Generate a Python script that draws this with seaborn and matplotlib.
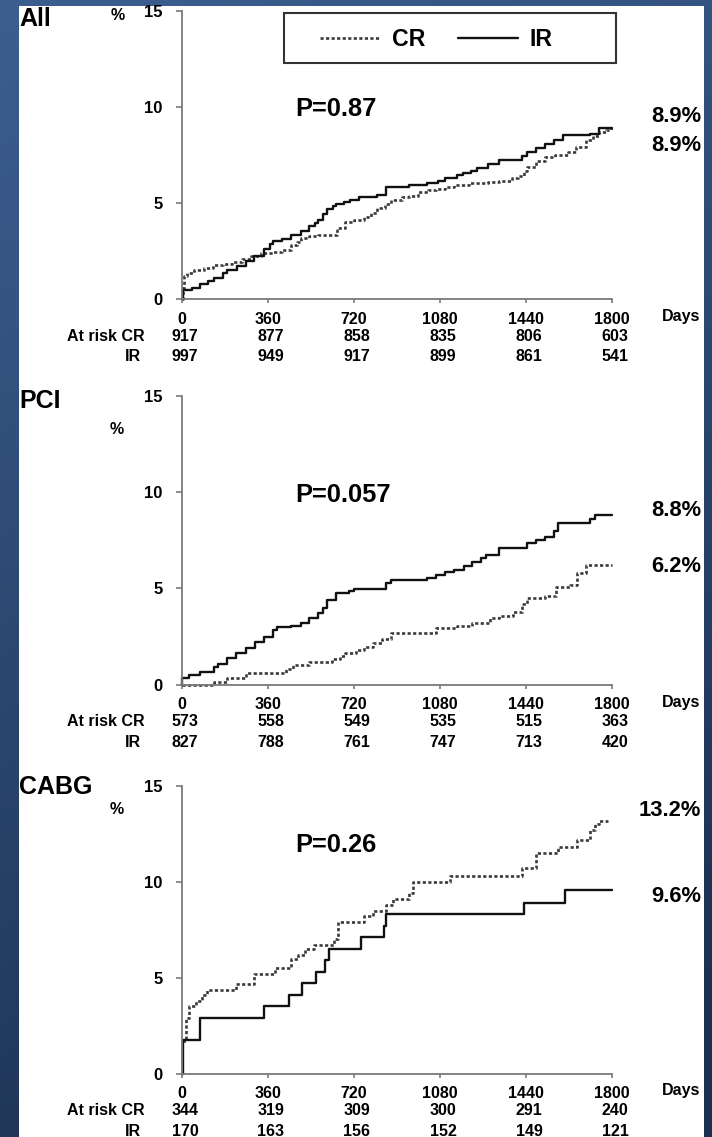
import numpy as np
import pandas as pd
import seaborn as sns
import matplotlib.pyplot as plt
from matplotlib.patches import Rectangle
from matplotlib.lines import Line2D

# ---------------- data ----------------
panel_titles = ["All", "PCI", "CABG"]
p_values = ["P=0.87", "P=0.057", "P=0.26"]
tick_days = [0, 360, 720, 1080, 1440, 1800]
ytick_vals = [0, 5, 10, 15]

# All
all_ir_days = [0, 5, 40, 76, 110, 133, 170, 190, 230, 266, 300, 342, 370, 380, 420, 456, 500, 532, 555,
               570, 590, 608, 630, 646, 680, 703, 740, 817, 854, 949, 1025, 1070, 1101, 1150, 1177,
               1210, 1234, 1280, 1329, 1424, 1443, 1480, 1519, 1557, 1595, 1709, 1747, 1800]
all_ir_pct = [0, 0.5, 0.6, 0.8, 0.95, 1.1, 1.35, 1.5, 1.75, 2.0, 2.25, 2.6, 2.9, 3.05, 3.15, 3.35, 3.55, 3.8, 3.95,
              4.15, 4.45, 4.7, 4.85, 4.95, 5.05, 5.15, 5.3, 5.45, 5.85, 5.95, 6.05, 6.15, 6.3, 6.45, 6.55,
              6.7, 6.85, 7.05, 7.25, 7.45, 7.65, 7.85, 8.1, 8.3, 8.55, 8.6, 8.9, 8.9]
all_cr_days = [0, 3, 10, 20, 50, 90, 130, 170, 210, 250, 290, 330, 380, 420, 456, 480, 500, 530, 570,
               650, 684, 720, 760, 790, 817, 850, 874, 920, 949, 987, 1030, 1063, 1100, 1139, 1200, 1280,
               1329, 1380, 1405, 1430, 1443, 1480, 1519, 1560, 1614, 1650, 1690, 1720, 1747, 1775, 1794, 1800]
all_cr_pct = [0, 0.6, 1.2, 1.35, 1.5, 1.65, 1.8, 1.85, 1.95, 2.1, 2.25, 2.4, 2.45, 2.55, 2.8, 3.0, 3.2, 3.3, 3.35,
              3.7, 4.0, 4.1, 4.3, 4.5, 4.75, 4.95, 5.15, 5.3, 5.4, 5.6, 5.7, 5.75, 5.85, 5.95, 6.05, 6.1,
              6.15, 6.3, 6.4, 6.7, 6.9, 7.2, 7.4, 7.5, 7.65, 7.9, 8.3, 8.5, 8.7, 8.8, 8.9, 8.9]

# PCI
pci_ir_days = [0, 1, 30, 76, 133, 152, 190, 228, 266, 304, 342, 380, 399, 456, 500, 532, 570, 590, 608, 646,
               700, 722, 854, 874, 1025, 1063, 1100, 1139, 1180, 1215, 1250, 1272, 1329, 1443, 1480, 1519,
               1557, 1576, 1709, 1728, 1800]
pci_ir_pct = [0, 0.33, 0.5, 0.68, 0.94, 1.1, 1.37, 1.63, 1.9, 2.23, 2.5, 2.84, 3.0, 3.05, 3.2, 3.45, 3.7, 4.0, 4.4, 4.75,
              4.85, 4.95, 5.27, 5.45, 5.55, 5.7, 5.85, 5.95, 6.15, 6.4, 6.6, 6.74, 7.08, 7.34, 7.5, 7.7,
              8.0, 8.4, 8.6, 8.8, 8.8]
pci_cr_days = [0, 133, 190, 266, 437, 465, 532, 627, 660, 684, 730, 760, 800, 836, 874, 1063, 1150, 1215,
               1291, 1329, 1386, 1424, 1443, 1519, 1566, 1623, 1652, 1690, 1800]
pci_cr_pct = [0, 0.15, 0.33, 0.6, 0.8, 1.0, 1.2, 1.35, 1.5, 1.65, 1.8, 1.95, 2.15, 2.35, 2.67, 2.93, 3.05, 3.2,
              3.45, 3.55, 3.8, 4.2, 4.5, 4.6, 5.1, 5.2, 5.8, 6.2, 6.2]

# CABG
cabg_ir_days = [0, 5, 76, 342, 446, 503, 560, 598, 617, 750, 845, 855, 1430, 1604, 1800]
cabg_ir_pct = [0, 1.75, 2.9, 3.5, 4.1, 4.7, 5.3, 5.9, 6.5, 7.1, 7.7, 8.3, 8.9, 9.55, 9.55]
cabg_cr_days = [0, 2, 15, 28, 57, 85, 104, 228, 300, 389, 456, 484, 513, 551, 636, 655, 760, 798, 855, 883,
                949, 968, 1120, 1424, 1481, 1576, 1652, 1709, 1728, 1747, 1785]
cabg_cr_pct = [0, 1.7, 2.9, 3.5, 3.8, 4.1, 4.35, 4.65, 5.2, 5.5, 6.0, 6.2, 6.5, 6.7, 7.0, 7.9, 8.2, 8.5, 8.8, 9.1,
               9.4, 10.0, 10.3, 10.7, 11.5, 11.8, 12.2, 12.7, 13.0, 13.2, 13.2]

# numbers at risk
all_risk_cr = [917, 877, 858, 835, 806, 603]
all_risk_ir = [997, 949, 917, 899, 861, 541]
pci_risk_cr = [573, 558, 549, 535, 515, 363]
pci_risk_ir = [827, 788, 761, 747, 713, 420]
cabg_risk_cr = [344, 319, 309, 300, 291, 240]
cabg_risk_ir = [170, 163, 156, 152, 149, 121]

# final rates shown at right
all_final = ["8.9%", "8.9%"]
pci_final = ["8.8%", "6.2%"]
cabg_final = ["13.2%", "9.6%"]

# ---------------- style ----------------
sns.set_theme(style="ticks", rc={"text.color": "black", "xtick.labelcolor": "black",
                                 "ytick.labelcolor": "black"})
plt.rcParams['font.family'] = ['Liberation Sans', 'DejaVu Sans']
plt.rcParams['font.weight'] = 'bold'

W, H = 712, 1137
fig = plt.figure(figsize=(W / 100, H / 100), dpi=100)


def fx(px):
    return px / W


def fy(py):
    return 1 - py / H


PT = 0.72  # points per pixel

# background: blue slide gradient + white panel
bg = fig.add_axes([0, 0, 1, 1], zorder=-10)
yy = np.linspace(0, 1, 200)[:, None]
xx = np.linspace(0, 1, 200)[None, :]
top = np.array([0x3c, 0x5f, 0x90]) / 255
bot = np.array([0x1b, 0x30, 0x50]) / 255
t = np.clip(yy * 0.85 + xx * 0.25, 0, 1)
grad = top[None, None, :] * (1 - t[..., None]) + bot[None, None, :] * t[..., None]
bg.imshow(grad, extent=[0, 1, 0, 1], aspect='auto', origin='upper')
bg.add_patch(Rectangle((19 / W, 0), (704 - 19) / W, (H - 6) / H, facecolor='white',
                       edgecolor='none', transform=bg.transAxes))
bg.set_xlim(0, 1)
bg.set_ylim(0, 1)
bg.axis('off')

gray = '#7a7a7a'
panels = [
    dict(title=panel_titles[0], p=p_values[0], y0=299.3, y15=11.0,
         ir=(all_ir_days, all_ir_pct), cr=(all_cr_days, all_cr_pct),
         rcr=all_risk_cr, rir=all_risk_ir, final=all_final, fpos=[117, 145.5],
         title_y=19, pct_xy=(117.5, 16), p_y=109),
    dict(title=panel_titles[1], p=p_values[1], y0=684.7, y15=396.0,
         ir=(pci_ir_days, pci_ir_pct), cr=(pci_cr_days, pci_cr_pct),
         rcr=pci_risk_cr, rir=pci_risk_ir, final=pci_final, fpos=[510, 566.7],
         title_y=401.5, pct_xy=(117, 430), p_y=495),
    dict(title=panel_titles[2], p=p_values[2], y0=1073.5, y15=786.0,
         ir=(cabg_ir_days, cabg_ir_pct), cr=(cabg_cr_days, cabg_cr_pct),
         rcr=cabg_risk_cr, rir=cabg_risk_ir, final=cabg_final, fpos=[810, 896.7],
         title_y=786.5, pct_xy=(117, 810), p_y=845),
]

AX_L, AX_R = 182, 612

for pan in panels:
    y0, y15 = pan['y0'], pan['y15']
    ax = fig.add_axes([fx(AX_L), fy(y0), (AX_R - AX_L) / W, (y0 - y15) / H])
    ax.set_facecolor('none')

    cr_df = pd.DataFrame({'day': pan['cr'][0], 'pct': pan['cr'][1]})
    ir_df = pd.DataFrame({'day': pan['ir'][0], 'pct': pan['ir'][1]})
    sns.lineplot(data=cr_df, x='day', y='pct', ax=ax, drawstyle='steps-post', color='#3a3a3a',
                 linestyle=(0, (1.2, 0.9)), linewidth=1.9, estimator=None, legend=False, clip_on=False)
    sns.lineplot(data=ir_df, x='day', y='pct', ax=ax, drawstyle='steps-post', color='#111111',
                 linestyle='-', linewidth=1.7, estimator=None, legend=False, clip_on=False)

    ax.set_xlim(0, 1800)
    ax.set_ylim(0, 15)
    ax.set_xticks(tick_days)
    ax.set_xticklabels([str(d) for d in tick_days])
    ax.set_yticks(ytick_vals)
    ax.set_yticklabels([str(v) for v in ytick_vals])
    ax.set_xlabel('')
    ax.set_ylabel('')
    ax.tick_params(axis='x', direction='out', length=3, width=1.2, color=gray, pad=6,
                   labelsize=11.5, labelcolor='black')
    ax.tick_params(axis='y', direction='out', length=4.5, width=1.2, color=gray, pad=9.5,
                   labelsize=12, labelcolor='black')
    for lab in ax.get_xticklabels() + ax.get_yticklabels():
        lab.set_fontweight('bold')
    for s in ['top', 'right']:
        ax.spines[s].set_visible(False)
    for s in ['left', 'bottom']:
        ax.spines[s].set_color(gray)
        ax.spines[s].set_linewidth(1.3)

    # numbers at risk
    for j, d in enumerate(tick_days):
        ax.annotate(str(pan['rcr'][j]), xy=(d, 0), xycoords=('data', 'axes fraction'),
                    xytext=(3 * PT, -37 * PT), textcoords='offset points', ha='center', va='center',
                    fontsize=11.5, fontweight='bold', annotation_clip=False)
        ax.annotate(str(pan['rir'][j]), xy=(d, 0), xycoords=('data', 'axes fraction'),
                    xytext=(3 * PT, -57.5 * PT), textcoords='offset points', ha='center', va='center',
                    fontsize=11.5, fontweight='bold', annotation_clip=False)
    ax.annotate('At risk CR', xy=(0, 0), xycoords='axes fraction', xytext=(-37.5 * PT, -37 * PT),
                textcoords='offset points', ha='right', va='center', fontsize=11.5,
                fontweight='bold', annotation_clip=False)
    ax.annotate('IR', xy=(0, 0), xycoords='axes fraction', xytext=(-41 * PT, -57.5 * PT),
                textcoords='offset points', ha='right', va='center', fontsize=11.5,
                fontweight='bold', annotation_clip=False)
    ax.annotate('Days', xy=(1, 0), xycoords='axes fraction', xytext=(69 * PT, -17.5 * PT),
                textcoords='offset points', ha='center', va='center', fontsize=11.5,
                fontweight='bold', annotation_clip=False)

    # P value
    fig.text(fx(295), fy(pan['p_y']), pan['p'], ha='left', va='center', fontsize=18.4,
             fontweight='bold')
    # final rates
    for txt, ypx in zip(pan['final'], pan['fpos']):
        fig.text(fx(701), fy(ypx), txt, ha='right', va='center', fontsize=15.8, fontweight='bold')
    # panel title and % label
    fig.text(fx(19), fy(pan['title_y']), pan['title'], ha='left', va='center', fontsize=18,
             fontweight='bold')
    fig.text(fx(pan['pct_xy'][0]), fy(pan['pct_xy'][1]), '%', ha='center', va='center',
             fontsize=11.5, fontweight='bold')

# legend (box drawn separately to match the reference's wide frame)
handles = [Line2D([], [], color='#3a3a3a', linestyle=(0, (1.2, 0.9)), linewidth=1.9),
           Line2D([], [], color='#111111', linestyle='-', linewidth=1.7)]
fig.legend(handles, ['CR', 'IR'], loc='center', bbox_to_anchor=(fx(436.5), fy(40)),
           bbox_transform=fig.transFigure, ncol=2, frameon=False,
           handlelength=2.59, handletextpad=0.52, columnspacing=1.38, borderpad=0.2,
           prop={'weight': 'bold', 'size': 16.7})
fig.add_artist(Rectangle((fx(284), fy(63)), (616 - 284) / W, 50 / H, transform=fig.transFigure,
                         facecolor='none', edgecolor='#333333', linewidth=1.5))

fig.savefig('out.png', dpi=100)
